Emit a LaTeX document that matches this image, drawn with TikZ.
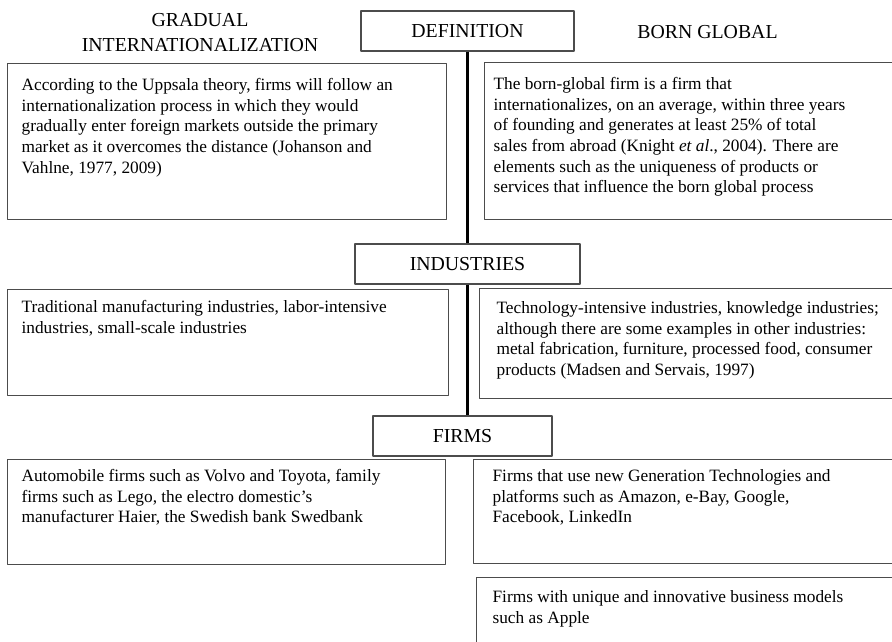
\documentclass[tikz,border=0pt]{standalone}
\usepackage{fontspec}
\setmainfont{Liberation Serif}
\newcommand{\bodysize}{\fontsize{17.3}{20.6}\selectfont}
\newcommand{\headsize}{\fontsize{19.8}{25}\selectfont}
\newcommand{\paneltext}[3]{\parbox[t][#2][t]{#1}{#3}}
\begin{document}
\begin{tikzpicture}[x=1pt, y=-1pt, line join=round,
		panel/.style={draw=black!70, line width=1.2pt, anchor=north west, inner xsep=14pt, inner ysep=10pt, font=\bodysize},
		headbox/.style={draw=black!70, line width=1.2pt, inner sep=0pt, font=\headsize},
		heading/.style={font=\headsize, align=center, inner sep=0pt},
		spine/.style={line width=2.7pt}]
				\useasboundingbox (0,0) rectangle (892,641);
				\clip (0,0) rectangle (892,641);
				\node[heading] (gradual) at (200,33) {GRADUAL\\INTERNATIONALIZATION};
				\node[heading, anchor=base] (born) at (707.5,38) {BORN GLOBAL};
				\node[headbox, minimum width=213pt, minimum height=40pt] (defn) at (467.5,31) {DEFINITION};
				\node[headbox, minimum width=225pt, minimum height=40pt] (ind) at (467.5,264) {INDUSTRIES};
				\node[headbox, minimum width=179pt, minimum height=40pt] (firms) at (462.5,436) {FIRMS};
				\draw[spine] (defn.south) -- (ind.north);
				\draw[spine] (ind.south) -- (ind.south |- firms.north);
				\node[panel, inner ysep=15pt] (gi1) at (7,63) {\paneltext{411pt}{126pt}{According to the Uppsala theory, firms will follow an\\
					internationalization process in which they would\\
					gradually enter foreign markets outside the primary\\
					market as it overcomes the distance (Johanson and\\
					Vahlne, 1977, 2009)}};
				\node[panel, inner xsep=9pt, inner ysep=15pt] (bg1) at (484,62) {\paneltext{422pt}{127pt}{The born-global firm is a firm that\\
					internationalizes, on an average, within three years\\
					of founding and generates at least 25\% of total\\
					sales from abroad (Knight \textit{et al}., 2004). There are\\
					elements such as the uniqueness of products or\\
					services that influence the born global process}};
				\node[panel, inner ysep=11pt] (gi2) at (7,289) {\paneltext{413pt}{84pt}{Traditional manufacturing industries, labor-intensive\\
					industries, small-scale industries}};
				\node[panel, inner xsep=17pt, inner ysep=13pt] (bg2) at (479,288) {\paneltext{406pt}{84pt}{Technology-intensive industries, knowledge industries;\\
					although there are some examples in other industries:\\
					metal fabrication, furniture, processed food, consumer\\
					products (Madsen and Servais, 1997)}};
				\node[panel] (gi3) at (7,459) {\paneltext{410pt}{85pt}{Automobile firms such as Volvo and Toyota, family\\
					firms such as Lego, the electro domestic’s\\
					manufacturer Haier, the Swedish bank Swedbank}};
				\node[panel, inner xsep=19pt] (bg3) at (473,459) {\paneltext{402pt}{84pt}{Firms that use new Generation Technologies and\\
					platforms such as Amazon, e-Bay, Google,\\
					Facebook, LinkedIn}};
				\node[panel, inner xsep=16pt, inner ysep=13pt] (bg4) at (476,577) {\paneltext{408pt}{74pt}{Firms with unique and innovative business models\\
					such as Apple}};
			\end{tikzpicture}
\end{document}
